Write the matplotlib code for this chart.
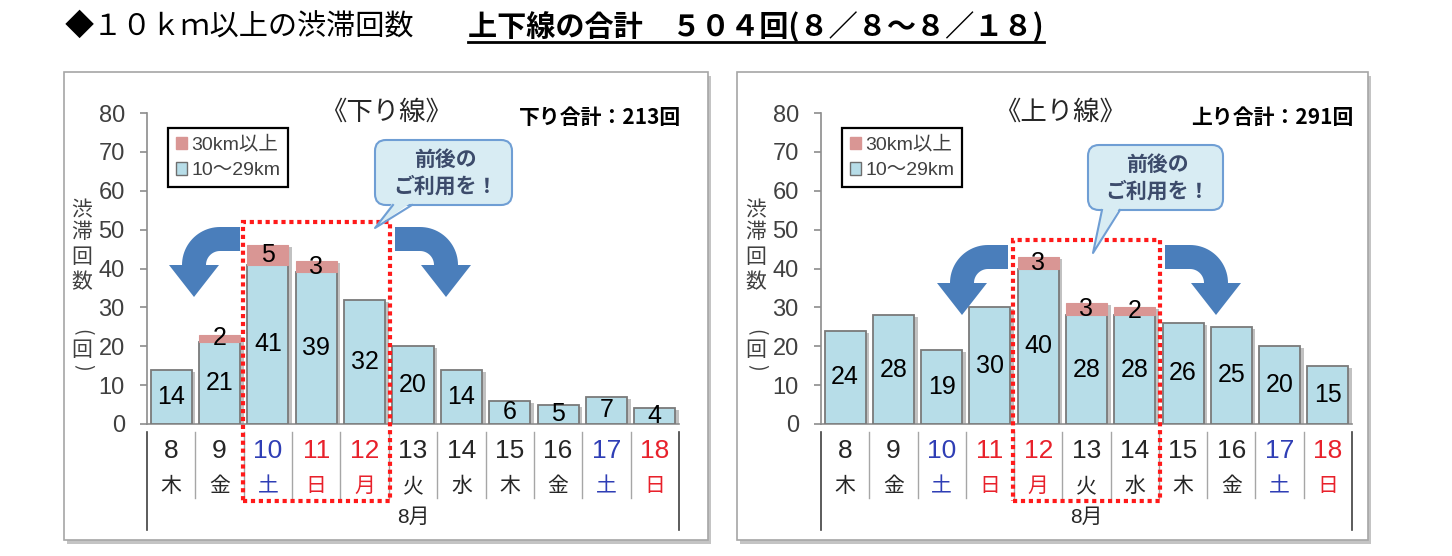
import numpy as np
import matplotlib
matplotlib.use("Agg")
import matplotlib.pyplot as plt
import matplotlib.transforms as mtransforms
from matplotlib.patches import Rectangle, FancyBboxPatch, Polygon, Patch

plt.rcParams['font.family'] = ['Noto Sans CJK JP', 'DejaVu Sans']

# ---------------- data ----------------
dates = ['8', '9', '10', '11', '12', '13', '14', '15', '16', '17', '18']
weekdays = ['木', '金', '土', '日', '月', '火', '水', '木', '金', '土', '日']
day_kind = ['w', 'w', 'sat', 'hol', 'hol', 'w', 'w', 'w', 'w', 'sat', 'hol']
month_label = '8月'
down_10_29 = [14, 21, 41, 39, 32, 20, 14, 6, 5, 7, 4]
down_30plus = [0, 2, 5, 3, 0, 0, 0, 0, 0, 0, 0]
up_10_29 = [24, 28, 19, 30, 40, 28, 28, 26, 25, 20, 15]
up_30plus = [0, 0, 0, 0, 3, 3, 2, 0, 0, 0, 0]
down_highlight = (2, 4)
up_highlight = (4, 6)
yticks = [0, 10, 20, 30, 40, 50, 60, 70, 80]
legend_labels = ['30km以上', '10～29km']

# ---------------- style ----------------
W, H = 1452, 556
BLUE = '#B7DDE8'
PINK = '#D99694'
ARROW = '#4A7EBB'
DAYCOL = {'w': '#262626', 'sat': '#2F3EB5', 'hol': '#E8212B'}
NARROW = ['Liberation Sans Narrow', 'Liberation Sans', 'Noto Sans CJK JP']
SANS = ['Liberation Sans', 'Noto Sans CJK JP']

fig = plt.figure(figsize=(W / 100, H / 100), dpi=100)
fig.patch.set_facecolor('white')

bg = fig.add_axes([0, 0, 1, 1], zorder=0)
bg.set_xlim(0, W); bg.set_ylim(H, 0); bg.axis('off')
ov = fig.add_axes([0, 0, 1, 1], zorder=3)
ov.set_xlim(0, W); ov.set_ylim(H, 0); ov.axis('off')
ov.patch.set_alpha(0)

AX_TOP, AX_BOT = 113, 424


def af(py):
    return (AX_BOT - py) / (AX_BOT - AX_TOP)


def dv(py):
    return af(py) * 80


def curved_arrow(x_start, cx, cy, d, R=38, r=14, hw=25, tip=32):
    th = np.linspace(0, np.pi / 2, 24)
    pts = [(x_start, cy - R)]
    pts += [(cx + d * R * np.sin(t), cy - R * np.cos(t)) for t in th]
    xc = cx + d * (R + r) / 2
    pts += [(xc + d * hw, cy), (xc, cy + tip), (xc - d * hw, cy)]
    pts += [(cx + d * r * np.sin(t), cy - r * np.cos(t)) for t in th[::-1]]
    pts += [(x_start, cy - r)]
    return pts


def panel(frame, ax_x0, ax_x1, short, long, hl, hl_top_py, title, total_prefix,
          callout_box, tail, arrows_cy, arrow_l, arrow_r):
    fx0, fy0, fx1, fy1 = frame
    bg.add_patch(Rectangle((fx0 + 3, fy0 + 4), fx1 - fx0, fy1 - fy0, color='#C4C4C4', lw=0))
    bg.add_patch(Rectangle((fx0, fy0), fx1 - fx0, fy1 - fy0, fc='white', ec='#A6A6A6', lw=1.2))

    ax = fig.add_axes([ax_x0 / W, 1 - AX_BOT / H, (ax_x1 - ax_x0) / W, (AX_BOT - AX_TOP) / H], zorder=1)
    ax.patch.set_alpha(0)
    n = len(short)
    x = np.arange(n)
    s = np.array(short); l = np.array(long)
    ax.set_xlim(-0.5, n - 0.5); ax.set_ylim(0, 80)
    for sp in ['top', 'right']:
        ax.spines[sp].set_visible(False)
    for sp in ['left', 'bottom']:
        ax.spines[sp].set_color('#8C8C8C'); ax.spines[sp].set_linewidth(1.2)
    ax.set_xticks([])
    ax.set_yticks(yticks)
    ax.tick_params(axis='y', length=5, width=1.2, color='#8C8C8C', pad=11,
                   labelsize=17, labelcolor='#404040')
    for t in ax.get_yticklabels():
        t.set_family(NARROW)

    # bars
    ax.bar(x + 0.075, s + l - 0.5, width=0.85, color='#8F8F8F', alpha=0.55, lw=0, zorder=2)
    ax.bar(x, s, width=0.85, color=BLUE, edgecolor='#7A7A7A', lw=1.3, zorder=3)
    m = l > 0
    ax.bar(x[m], l[m], width=0.85, bottom=s[m], color=PINK, edgecolor=PINK, lw=0.8, zorder=3)
    for i in range(n):
        ax.text(i, s[i] / 2, str(s[i]), ha='center', va='center', fontsize=18,
                family=SANS, color='black', zorder=5)
        if l[i] > 0:
            ax.text(i, s[i] + l[i] / 2, str(l[i]), ha='center', va='center', fontsize=18,
                    family=SANS, color='black', zorder=5)

    # category labels
    tr = mtransforms.blended_transform_factory(ax.transData, ax.transAxes)
    for i in range(n):
        c = DAYCOL[day_kind[i]]
        ax.text(i, af(451), dates[i], transform=tr, ha='center', va='center',
                fontsize=19, family=NARROW, color=c, clip_on=False)
        ax.text(i, af(486), weekdays[i], transform=tr, ha='center', va='center',
                fontsize=15, color=c, clip_on=False)
    for b in np.arange(0.5, n - 1, 1.0):
        ax.plot([b, b], [af(432), af(498)], transform=tr, color='#A6A6A6', lw=1, clip_on=False)
    for b in [-0.5, n - 0.5]:
        ax.plot([b, b], [af(432), af(530)], transform=tr, color='#404040', lw=1.2, clip_on=False)
    ax.text((n - 1) / 2, af(517), month_label, transform=tr, ha='center', va='center',
            fontsize=15, family=NARROW, color='#262626', clip_on=False)

    # highlight box
    y0 = dv(501); y1 = dv(hl_top_py)
    ax.add_patch(Rectangle((hl[0] - 0.52, y0), hl[1] - hl[0] + 1.04, y1 - y0, fill=False,
                           ec='#FF1A1A', lw=3, ls=(0, (1, 0.9)), clip_on=False, zorder=6))

    # y label (stacked vertical); parentheses turned for vertical writing
    xl = ax_x0 - 65
    for ch, py, rot in zip('渋滞回数(回)', [210, 232, 257, 282, 332, 350, 367],
                           [0, 0, 0, 0, -90, 0, -90]):
        ov.text(xl, py, ch, ha='center', va='center', fontsize=15 if rot == 0 else 14,
                rotation=rot, color='#404040')

    # legend
    handles = [Patch(facecolor=PINK, edgecolor=PINK, label=legend_labels[0]),
               Patch(facecolor=BLUE, edgecolor='#6E6E6E', label=legend_labels[1])]
    leg = ax.legend(handles=handles, loc='upper left',
                    bbox_to_anchor=((ax_x0 + 21) / W, 1 - 128 / H), bbox_transform=fig.transFigure,
                    frameon=True, fancybox=False, edgecolor='black', framealpha=1,
                    prop={'family': SANS, 'size': 14}, labelcolor='#404040',
                    handlelength=0.6, handleheight=0.6, handletextpad=0.2,
                    borderpad=0.4, labelspacing=0.45, borderaxespad=0)
    leg.get_frame().set_linewidth(1.6)
    leg.set_zorder(7)

    # titles
    cx = (ax_x0 + ax_x1) / 2 - 27
    ov.text(cx, 112, title, ha='center', va='center', fontsize=19, color='#262626')
    total = int(s.sum() + l.sum())
    ov.text(ax_x1 + 2, 117, f'{total_prefix}：{total}回', ha='right', va='center', fontsize=15,
            fontweight='bold', color='black')

    # callout
    bx0, by0, bx1, by1 = callout_box
    ov.add_patch(FancyBboxPatch((bx0, by0), bx1 - bx0, by1 - by0,
                                boxstyle='round,pad=0,rounding_size=11',
                                fc='#D8ECF3', ec='#6F9ED4', lw=1.5, zorder=2))
    t0, t1, tip = tail
    ov.add_patch(Polygon([(t0, by1 - 3), tip, (t1, by1 - 3)], closed=True, fc='#D8ECF3',
                         ec='none', zorder=3))
    ov.plot([t0, tip[0], t1], [by1, tip[1], by1], color='#6F9ED4', lw=1.5, zorder=4)
    ov.text((bx0 + bx1) / 2 + 2, (by0 + by1) / 2, '前後の\nご利用を！', ha='center', va='center',
            fontsize=15, fontweight='bold', color='#3C4B6B', linespacing=1.35, zorder=5)

    # arrows
    ov.add_patch(Polygon(curved_arrow(arrow_l[0], arrow_l[1], arrows_cy, -1), closed=True,
                         fc=ARROW, ec='none', zorder=2))
    ov.add_patch(Polygon(curved_arrow(arrow_r[0], arrow_r[1], arrows_cy, +1), closed=True,
                         fc=ARROW, ec='none', zorder=2))
    return total


t_down = panel((64, 72, 708, 540), 147, 679, down_10_29, down_30plus, down_highlight, 222,
               '《下り線》', '下り合計', (375, 140, 512, 205), (393, 412, (375, 228)),
               265, (240, 220), (395, 420))
t_up = panel((737, 72, 1368, 540), 821, 1352, up_10_29, up_30plus, up_highlight, 240,
             '《上り線》', '上り合計', (1088, 145, 1223, 210), (1102, 1120, (1093, 253)),
             283, (1008, 988), (1165, 1190))

# ---------------- page title ----------------
FW = str.maketrans('0123456789', '０１２３４５６７８９')
ov.text(65, 27, '◆１０ｋｍ以上の渋滞回数', ha='left', va='center', fontsize=21, color='black')
t2 = ov.text(468, 27, f'上下線の合計　{str(t_down + t_up).translate(FW)}回(８／８～８／１８)',
             ha='left', va='center', fontsize=21, fontweight='bold', color='black')
fig.canvas.draw()
bb = t2.get_window_extent()
ov.plot([bb.x0, bb.x1], [42, 42], color='black', lw=2)

fig.savefig('out.png', dpi=100, facecolor='white')
